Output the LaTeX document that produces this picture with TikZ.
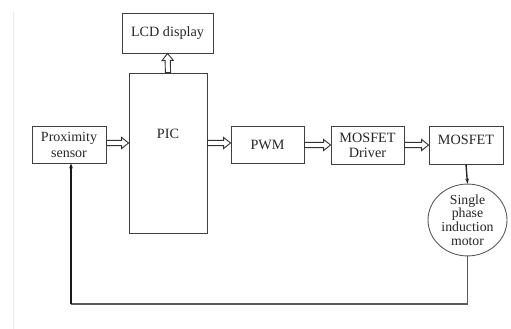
\documentclass[tikz,border=0pt]{standalone}
\usepackage{fontspec}
\setmainfont{Liberation Serif}
\usetikzlibrary{shapes.geometric, positioning, arrows.meta, calc}

% hollow block arrow from #1 to #2
\newcommand{\fatarrow}[2]{%
  \draw[hollow] let \p1=(#1), \p2=(#2), \n1={veclen(\x2-\x1,\y2-\y1)},
        \n2={atan2(\y2-\y1,\x2-\x1)} in [shift={(\p1)}, rotate=\n2]
    (0pt,-2.6pt) -- ({\n1-7pt},-2.6pt) -- ({\n1-7pt},-5.6pt) -- ({\n1},0pt)
    -- ({\n1-7pt},5.6pt) -- ({\n1-7pt},2.6pt) -- (0pt,2.6pt) -- cycle;}

\begin{document}
\begin{tikzpicture}[x=1pt, y=-1pt,
    block/.style={draw=black!75, line width=0.9pt, fill=white, align=center, inner sep=1pt,
                  font=\fontsize{14.2}{15}\selectfont, text=black!85},
    hollow/.style={draw=black!80, line width=0.9pt, fill=white, line join=miter},
    thinline/.style={draw=black!65, line width=1.2pt}]
    \useasboundingbox (0,0) rectangle (511,329);
    % page edge
    \draw[black!8, line width=0.8pt] (13,12) -- (13,329);

    % blocks
    \node[block, minimum width=91pt, minimum height=40pt] (lcd) at (167.5,33) {LCD display};
    \node[block, minimum width=78pt, minimum height=160pt] (pic) at (168,153) {};
    \node[font=\fontsize{14.2}{15}\selectfont, text=black!85] (pictext) at (168,134) {PIC};
    \node[block, minimum width=74pt, minimum height=37pt, font=\fontsize{14}{16}\selectfont] (prox) at (69,144.5) {Proximity\\sensor};
    \node[block, minimum width=73pt, minimum height=37pt] (pwm) at (267.5,144.5) {PWM};
    \node[block, minimum width=73pt, minimum height=38pt] (driver) at (367.5,145) {MOSFET\\Driver};
    \node[block, minimum width=74pt, minimum height=38pt] (mosfet) at (466,145) {MOSFET\\[-4pt]\phantom{x}};
    \node[block, ellipse, draw=black!65, minimum width=79pt, minimum height=56pt, inner sep=0pt,
          font=\fontsize{13.8}{13.7}\selectfont] (motor) at (467.5,220) {Single\\phase\\induction\\motor};

    % signal flow
    \fatarrow{prox.east |- 0,143}{pic.west |- 0,143}
    \fatarrow{pic.east |- 0,143}{pwm.west |- 0,143}
    \fatarrow{pwm.east |- 0,145}{driver.west |- 0,145}
    \fatarrow{driver.east |- 0,145}{mosfet.west |- 0,145}
    \fatarrow{pic.north}{lcd.south}
    \draw[black!85, line width=1.4pt, -{Stealth[length=5pt]}] (mosfet.south) -- (motor.north);

    % feedback
    \coordinate (corner) at (71,304);
    \draw[thinline] (motor.south) |- (corner);
    \draw[black!90, line width=2.6pt, -{Stealth[length=5pt]}] (corner) -- (prox.south -| corner);
\end{tikzpicture}
\end{document}
